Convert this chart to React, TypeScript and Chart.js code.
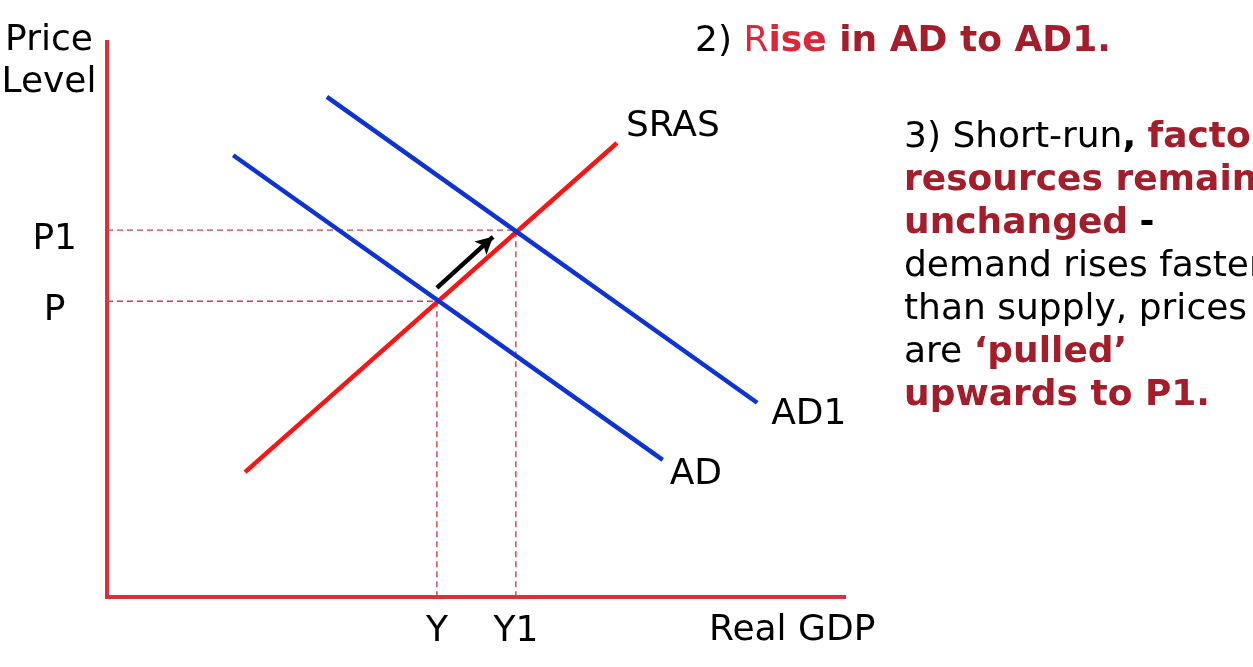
import React, { useEffect, useRef } from "react";
import { Chart, registerables } from "chart.js";

Chart.register(...registerables);

const FONT = '"DejaVu Sans", "Liberation Sans", sans-serif';

// Curves (x = real GDP units, y = price level units, both on 0..100 axes)
const srasX = [18.7, 69.1];
const srasY = [22.5, 81.8];
const adX = [17.1, 75.3];
const adY = [79.6, 24.7];
const ad1X = [29.8, 88.1];
const ad1Y = [90.1, 35.0];

// Equilibria
const outputLevels = [44.7, 55.4];
const outputLabels = ["Y", "Y1"];
const priceLevels = [53.3, 66.1];
const priceLabels = ["P", "P1"];

// Movement arrow along SRAS
const arrowX = [44.7, 52.3];
const arrowY = [55.7, 64.9];

const curveNames = ["SRAS", "AD", "AD1"];
const axisNames = ["Price", "Level", "Real GDP"];

const AXIS_RED = "#d8313c";
const DASH_RED = "#d43d49";
const SRAS_RED = "#fa1414";
const AD_BLUE = "#0d33d4";
const DARK_RED = "#a31d2a";
const BRIGHT_RED = "#d9283a";

const pts = (xs: number[], ys: number[]) => xs.map((x, i) => ({ x, y: ys[i] }));

const labelPlugin = {
  id: "econLabels",
  afterDatasetsDraw(chart: any) {
    const { ctx, chartArea, scales } = chart;
    const sx = scales.x;
    const sy = scales.y;
    ctx.save();
    ctx.font = `36px ${FONT}`;
    ctx.fillStyle = "#000";
    ctx.textBaseline = "alphabetic";
    ctx.textAlign = "left";

    // curve labels at the upper/right ends of the curves
    const ends: [number, number, number, number][] = [
      [srasX[1], srasY[1], 9, -7],
      [adX[1], adY[1], 7, 24],
      [ad1X[1], ad1Y[1], 14, 21],
    ];
    ends.forEach(([vx, vy, dx, dy], i) => {
      ctx.fillText(curveNames[i], sx.getPixelForValue(vx) + dx, sy.getPixelForValue(vy) + dy);
    });

    // axis names
    ctx.textAlign = "center";
    ctx.fillText(axisNames[0], chartArea.left - 58, chartArea.top + 8);
    ctx.fillText(axisNames[1], chartArea.left - 58, chartArea.top + 50);
    ctx.textAlign = "left";
    ctx.fillText(axisNames[2], chartArea.right - 136, chartArea.bottom + 43);

    // arrow head
    const x0 = sx.getPixelForValue(arrowX[0]);
    const y0 = sy.getPixelForValue(arrowY[0]);
    const x1 = sx.getPixelForValue(arrowX[1]);
    const y1 = sy.getPixelForValue(arrowY[1]);
    const a = Math.atan2(y1 - y0, x1 - x0);
    const len = 17;
    const hw = 9;
    const bx = x1 - len * Math.cos(a);
    const by = y1 - len * Math.sin(a);
    ctx.fillStyle = "#000";
    ctx.beginPath();
    ctx.moveTo(x1, y1);
    ctx.lineTo(bx + hw * Math.sin(a), by - hw * Math.cos(a));
    ctx.lineTo(bx + 4 * Math.cos(a), by + 4 * Math.sin(a));
    ctx.lineTo(bx - hw * Math.sin(a), by + hw * Math.cos(a));
    ctx.closePath();
    ctx.fill();
    ctx.restore();
  },
};

function EconChart() {
  const ref = useRef<HTMLCanvasElement | null>(null);
  useEffect(() => {
    if (!ref.current) return;
    const tickFont = { family: FONT, size: 36 };
    const dashed = (xv: number, pv: number, label: string) => ({
      label,
      data: [
        { x: 0, y: pv },
        { x: xv, y: pv },
        { x: xv, y: 0 },
      ],
      showLine: true,
      borderColor: DASH_RED,
      borderWidth: 1.4,
      borderDash: [6, 4],
      pointRadius: 0,
      order: 10,
    });
    const chart = new Chart(ref.current, {
      type: "scatter",
      data: {
        datasets: [
          dashed(outputLevels[0], priceLevels[0], "P dashed"),
          dashed(outputLevels[1], priceLevels[1], "P1 dashed"),
          {
            label: curveNames[0],
            data: pts(srasX, srasY),
            showLine: true,
            borderColor: SRAS_RED,
            borderWidth: 4.5,
            pointRadius: 0,
            order: 3,
          },
          {
            label: curveNames[1],
            data: pts(adX, adY),
            showLine: true,
            borderColor: AD_BLUE,
            borderWidth: 4.5,
            pointRadius: 0,
            order: 2,
          },
          {
            label: curveNames[2],
            data: pts(ad1X, ad1Y),
            showLine: true,
            borderColor: AD_BLUE,
            borderWidth: 4.5,
            pointRadius: 0,
            order: 2,
          },
          {
            label: "arrow",
            data: pts(arrowX, arrowY),
            showLine: true,
            borderColor: "#000",
            borderWidth: 4.5,
            pointRadius: 0,
            order: 1,
          },
        ],
      },
      options: {
        animation: false,
        responsive: false,
        layout: { padding: { left: 0, top: 42, right: 408, bottom: 0 } },
        plugins: {
          legend: { display: false },
          tooltip: { enabled: false },
          title: { display: false },
        },
        events: [],
        scales: {
          x: {
            type: "linear",
            min: 0,
            max: 100,
            grid: { display: false, drawTicks: false },
            border: { display: true, color: AXIS_RED, width: 4 },
            afterFit: (s: any) => {
              s.height = 70;
              s.paddingLeft = 0;
              s.paddingRight = 0;
            },
            afterBuildTicks: (s: any) => {
              s.ticks = outputLevels.map((v) => ({ value: v }));
            },
            ticks: {
              autoSkip: false,
              maxRotation: 0,
              padding: 13,
              color: "#000",
              font: tickFont,
              callback: (v: any) => {
                const i = outputLevels.indexOf(Number(v));
                return i >= 0 ? outputLabels[i] : "";
              },
            },
          },
          y: {
            type: "linear",
            min: 0,
            max: 100,
            grid: { display: false, drawTicks: false },
            border: { display: true, color: AXIS_RED, width: 4 },
            afterFit: (s: any) => {
              s.width = 107;
              s.paddingTop = 0;
              s.paddingBottom = 0;
            },
            afterBuildTicks: (s: any) => {
              s.ticks = priceLevels.map((v) => ({ value: v }));
            },
            ticks: {
              autoSkip: false,
              crossAlign: "center",
              padding: 30,
              labelOffset: 9,
              color: "#000",
              font: tickFont,
              callback: (v: any) => {
                const i = priceLevels.indexOf(Number(v));
                return i >= 0 ? priceLabels[i] : "";
              },
            },
          },
        },
      },
      plugins: [labelPlugin],
    } as any);
    return () => chart.destroy();
  }, []);
  return (
    <canvas
      ref={ref}
      width={1253}
      height={667}
      style={{ position: "absolute", left: 0, top: 0, width: 1253, height: 667 }}
    />
  );
}

const textBase: React.CSSProperties = {
  position: "absolute",
  fontFamily: FONT,
  fontSize: 36,
  lineHeight: "43px",
  whiteSpace: "nowrap",
  color: "#000",
};

export default function App() {
  return (
    <div
      style={{
        position: "absolute",
        left: 0,
        top: 0,
        width: 1253,
        height: 667,
        overflow: "hidden",
        background: "#fff",
      }}
    >
      <EconChart />
      <div style={{ ...textBase, left: 695, top: 17 }}>
        2) <span style={{ color: BRIGHT_RED }}>R</span>
        <b style={{ color: BRIGHT_RED }}>ise</b>
        <b style={{ color: DARK_RED }}> in AD to AD1.</b>
      </div>
      <div style={{ ...textBase, left: 904, top: 113 }}>
        <div>
          3) Short-run<b>,</b> <b style={{ color: DARK_RED }}>factor</b>
        </div>
        <div>
          <b style={{ color: DARK_RED }}>resources remain</b>
        </div>
        <div>
          <b style={{ color: DARK_RED }}>unchanged</b> <b>-</b>
        </div>
        <div>demand rises faster</div>
        <div>than supply, prices</div>
        <div>
          are <b style={{ color: DARK_RED }}>‘pulled’</b>
        </div>
        <div>
          <b style={{ color: DARK_RED }}>upwards to P1.</b>
        </div>
      </div>
    </div>
  );
}
